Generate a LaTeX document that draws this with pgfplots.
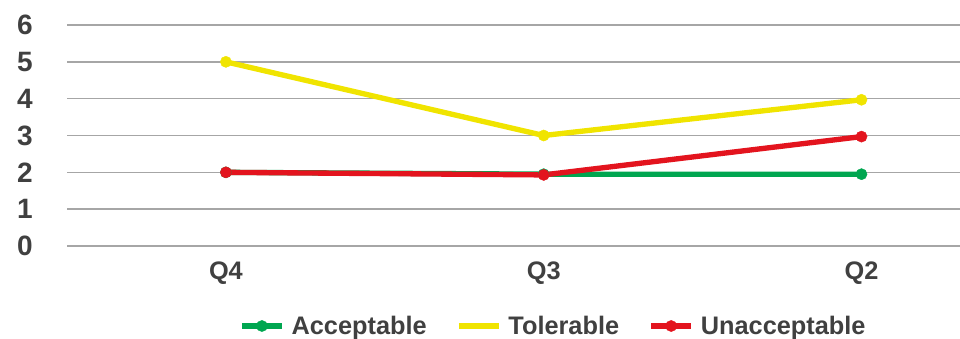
\documentclass[border=0pt]{standalone}
\usepackage{pgfplots}
\pgfplotsset{compat=1.18}
\usepackage{fontspec}
\setmainfont{Liberation Sans}
\definecolor{accG}{HTML}{00A650}
\definecolor{tolY}{HTML}{F0E400}
\definecolor{unaR}{HTML}{E3141E}
\definecolor{txt}{HTML}{404040}
\definecolor{gridc}{HTML}{A6A6A6}
\begin{document}
\begin{tikzpicture}
\begin{axis}[
  at={(50.25pt,69.75pt)}, anchor=south west,
  scale only axis, width=669.75pt, height=165.75pt,
  xmin=-0.5, xmax=2.31, ymin=0, ymax=6,
  axis line style={draw=none},
  major tick length=0pt,
  xtick={0,1,2}, xticklabels={Q4,Q3,Q2},
  ytick={0,1,2,3,4,5,6},
  ymajorgrids, grid style={gridc, line width=1.2pt},
  /pgf/number format/assume math mode=true,
  yticklabel style={font=\bfseries\fontsize{21}{23}\selectfont, text=txt, anchor=east, inner sep=0pt, xshift=-25.5pt},
  xticklabel style={font=\bfseries\fontsize{19}{21}\selectfont, text=txt, anchor=north, inner sep=0pt, yshift=-12pt},
  legend image code/.code={\draw[mark repeat=2,mark phase=2,#1] plot coordinates {(0pt,0pt)(15pt,0pt)(30pt,0pt)};},
  legend columns=-1,
  legend style={at={(0.1926,-0.362)}, anchor=west, draw=none, fill=none, inner sep=0pt,
    font=\bfseries\fontsize{19}{21}\selectfont, text=txt,
    nodes={inner sep=0pt},
    /tikz/every odd column/.append style={column sep=5.25pt},
    /tikz/every even column/.append style={column sep=22pt}},
]
\addplot[accG, line width=4pt, mark=*, mark size=4.2pt, mark options={line width=0.3pt}] coordinates {(0,2) (1,1.95) (2,1.95)};
\addlegendentry{Acceptable}
\addplot[tolY, line width=4pt, mark=*, mark size=4.2pt, mark options={line width=0.3pt}, forget plot] coordinates {(0,5) (1,3) (2,3.97)};
\addlegendimage{tolY, line width=4pt, no marks}
\addlegendentry{Tolerable}
\addplot[unaR, line width=4pt, mark=*, mark size=4.2pt, mark options={line width=0.3pt}] coordinates {(0,2) (1,1.93) (2,2.97)};
\addlegendentry{Unacceptable}
\end{axis}
\pgfresetboundingbox
\useasboundingbox (0,0) rectangle (720pt,254.25pt);
\end{tikzpicture}
\end{document}
